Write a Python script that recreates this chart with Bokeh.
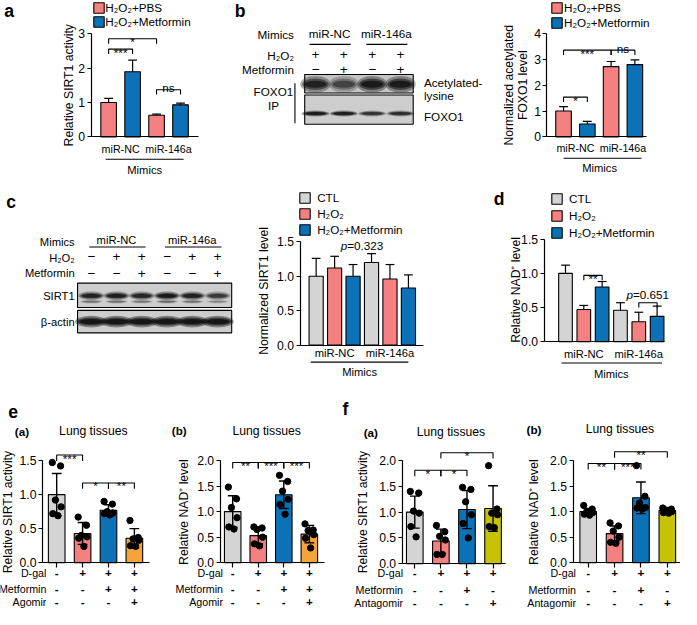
import math
from bokeh.plotting import figure
from bokeh.models import (Range1d, FixedTicker, Label, Legend, LegendItem, NumeralTickFormatter)
from bokeh.layouts import row, column
from bokeh.core.properties import value
from bokeh.embed import file_html
from bokeh.resources import INLINE

S = 0.975
FONT = "Liberation Sans"


def X(v):
    return int(round(v * S))


def fs(v):
    return f"{v * S:.1f}px"


GRAY, RED, BLUE, ORANGE, OLIVE = "#d4d4d4", "#f4807f", "#0b72b7", "#f5a43a", "#c8c300"
BLOT_BG = "#c4c4c4"

# ---------------------------------------------------------------- data
mimic_groups = ["miR-NC", "miR-146a"]
ab_series = ["H₂O₂+PBS", "H₂O₂+Metformin"]
ab_colors = [RED, BLUE]

a_yticks = [0, 1, 2, 3]
a_mean = [1.00, 1.89, 0.63, 0.93]
a_err = [0.12, 0.34, 0.03, 0.05]
a_sig = [(0, 1, 2.55, "***"), (0, 2, 2.85, "*"), (2, 3, 1.37, "ns")]

b_yticks = [0, 1, 2, 3, 4]
b_mean = [1.00, 0.50, 2.72, 2.80]
b_err = [0.17, 0.10, 0.20, 0.18]
b_sig = [(0, 1, 1.54, "*"), (0, 2, 3.36, "***"), (2, 3, 3.36, "ns")]
b_h2o2 = ["+", "+", "+", "+"]
b_met = ["−", "+", "−", "+"]
b_acetyl = [0.85, 0.55, 0.95, 0.95]
b_foxo1 = [0.95, 0.92, 0.70, 0.75]

cd_series = ["CTL", "H₂O₂", "H₂O₂+Metformin"]
cd_colors = [GRAY, RED, BLUE]
cd_yticks = [0, 0.5, 1.0, 1.5]
c_mean = [1.00, 1.12, 1.00, 1.20, 0.96, 0.83]
c_err = [0.26, 0.17, 0.17, 0.13, 0.21, 0.19]
c_p = (2.5, 1.44, "0.323")
c_h2o2 = ["−", "+", "+", "−", "+", "+"]
c_met = ["−", "−", "+", "−", "−", "+"]
c_sirt1 = [0.85, 0.88, 0.80, 0.95, 0.85, 0.62]
c_actin = [0.95, 0.95, 0.95, 0.95, 0.95, 0.95]

d_mean = [1.00, 0.47, 0.80, 0.46, 0.29, 0.37]
d_err = [0.12, 0.06, 0.08, 0.11, 0.14, 0.15]
d_sig = [(1, 2, 0.97, "**")]
d_p = (4, 5, 0.57, "0.651")

ef_yticks_a = [0, 0.5, 1.0, 1.5]
ef_yticks_b = [0, 0.5, 1.0, 1.5, 2.0]

e_rows = ["D-gal", "Metformin", "Agomir"]
e_signs = [["-", "+", "+", "+"], ["-", "-", "+", "+"], ["-", "-", "-", "+"]]
e_colors = [GRAY, RED, BLUE, ORANGE]
ea_mean = [1.00, 0.43, 0.77, 0.36]
ea_sd = [0.31, 0.16, 0.08, 0.14]
ea_pts = [[1.47, 1.42, 0.92, 0.82, 0.72, 0.69],
          [0.67, 0.55, 0.40, 0.38, 0.36, 0.24],
          [0.90, 0.86, 0.75, 0.73, 0.72, 0.70],
          [0.62, 0.37, 0.35, 0.33, 0.25, 0.24]]
ea_sig = [(0, 1, 1.58, "***"), (1, 2, 1.17, "*"), (2, 3, 1.17, "**")]

eb_mean = [1.00, 0.53, 1.33, 0.56]
eb_sd = [0.31, 0.16, 0.27, 0.17]
eb_pts = [[1.48, 1.25, 1.08, 0.88, 0.70, 0.66],
          [0.70, 0.68, 0.65, 0.50, 0.37, 0.33],
          [1.71, 1.59, 1.40, 1.24, 1.14, 0.95],
          [0.76, 0.64, 0.63, 0.55, 0.48, 0.29]]
eb_sig = [(0, 1, 1.96, "**"), (1, 2, 1.96, "***"), (2, 3, 1.96, "***")]

f_rows = ["D-gal", "Metformin", "Antagomir"]
f_signs = [["-", "+", "+", "+"], ["-", "-", "+", "-"], ["-", "-", "-", "+"]]
f_colors = [GRAY, RED, BLUE, OLIVE]
fa_mean = [1.00, 0.44, 1.05, 1.07]
fa_sd = [0.31, 0.23, 0.37, 0.44]
fa_pts = [[1.40, 1.37, 1.02, 0.98, 0.72, 0.52],
          [0.74, 0.62, 0.53, 0.46, 0.18, 0.18],
          [1.48, 1.44, 1.20, 0.95, 0.78, 0.50],
          [1.90, 1.06, 0.98, 0.95, 0.72, 0.70]]
fa_sig = [(0, 1, 1.81, "*"), (1, 2, 1.81, "*"), (1, 3, 2.15, "*")]

fb_mean = [1.00, 0.57, 1.27, 1.02]
fb_sd = [0.06, 0.15, 0.31, 0.04]
fb_pts = [[1.12, 1.05, 1.00, 0.98, 0.95, 0.93],
          [0.78, 0.72, 0.62, 0.50, 0.40, 0.38],
          [1.90, 1.30, 1.17, 1.08, 1.07, 1.05],
          [1.07, 1.05, 1.03, 1.00, 0.98, 0.97]]
fb_sig = [(0, 1, 1.94, "**"), (1, 2, 1.94, "***"), (1, 3, 2.17, "**")]

# dot spread inside a bar (style constant)
OFFS = [-0.17, 0.15, -0.05, 0.17, -0.15, 0.05]


# ---------------------------------------------------------------- helpers
class Geo:
    """maps reference-pixel positions of the layout into data units of one panel"""

    def __init__(self, slot, ax, ay, c0, pitch, ppu):
        self.slot, self.ax, self.ay, self.c0, self.pitch, self.ppu = slot, ax, ay, c0, pitch, ppu

    def x(self, rx):
        return (rx - self.c0) / self.pitch

    def y(self, ry):
        return (self.ay - ry) / self.ppu

    def dy(self, d):
        return d / self.ppu


def new_fig(slot, xr, yr, axes=True):
    L, T, R, B = slot
    kw = {} if axes else dict(x_axis_location=None, y_axis_location=None)
    p = figure(width=X(R) - X(L), height=X(B) - X(T), x_range=xr, y_range=yr,
               output_backend="svg", toolbar_location=None, title=None,
               min_border_left=0, min_border_right=0, min_border_top=0, min_border_bottom=0,
               **kw)
    p.outline_line_color = None
    p.grid.visible = False
    p.background_fill_color = "white"
    p.border_fill_color = "white"
    return p


def lab(p, x, y, text, size=12, align="center", baseline="middle", style="normal",
        angle=0.0, xo=0, yo=0):
    p.add_layout(Label(x=x, y=y, text=text, text_font=FONT, text_font_size=fs(size),
                       text_align=align, text_baseline=baseline, text_font_style=style,
                       text_color="black", angle=angle, x_offset=xo, y_offset=yo))


def txt(p, xs, ys, texts, size=12, align="center", style="normal"):
    p.text(x=xs, y=ys, text=texts, text_font=value(FONT), text_font_size=value(fs(size)),
           text_align=align, text_baseline="middle", text_font_style=style,
           text_color="black")


def bar_fig(slot, ax, ay, fr, c0, pitch, ppu, yticks, yfmt, xticks):
    L, T, R, B = slot
    g = Geo(slot, ax, ay, c0, pitch, ppu)
    p = new_fig(slot, Range1d(g.x(L), g.x(R)), Range1d(g.y(B), g.y(T)))
    yax = p.yaxis[0]
    yax.fixed_location = g.x(ax)
    yax.ticker = FixedTicker(ticks=yticks)
    yax.bounds = (0, yticks[-1])
    yax.formatter = NumeralTickFormatter(format=yfmt)
    yax.major_tick_in = 0
    yax.major_tick_out = 4
    yax.minor_tick_line_color = None
    yax.major_label_text_font = FONT
    yax.major_label_text_font_size = fs(12.5)
    yax.major_label_text_color = "black"
    yax.major_label_standoff = 2
    yax.axis_line_width = 1.2
    yax.major_tick_line_width = 1.2
    xax = p.xaxis[0]
    xax.fixed_location = 0
    xax.bounds = (g.x(ax), g.x(fr))
    xax.ticker = FixedTicker(ticks=xticks)
    xax.major_tick_in = 0
    xax.major_tick_out = 5 if xticks else 0
    xax.minor_tick_line_color = None
    xax.major_label_text_color = None
    xax.major_label_text_font_size = "1px"
    xax.axis_line_width = 1.2
    xax.major_tick_line_width = 1.2
    return p, g


def grouped_bars(p, g, means, errs, colors, bar_px, cap_px):
    ns = len(colors)
    rends = []
    for s in range(ns):
        idx = list(range(s, len(means), ns))
        r = p.vbar(x=idx, top=[means[i] for i in idx], width=bar_px / g.pitch,
                   fill_color=colors[s], line_color="black", line_width=1.1)
        rends.append(r)
    xs = list(range(len(means)))
    tops = [m + e for m, e in zip(means, errs)]
    p.segment(x0=xs, y0=means, x1=xs, y1=tops, line_color="black", line_width=1.2)
    p.scatter(x=xs, y=tops, marker="dash", size=cap_px * S, line_color="black", line_width=1.2)
    return rends


def add_legend(p, g, rends, labels, sq_left, first_top, pitch, text_x, sq=10.5):
    L, T, R, B = g.slot
    G = sq / 0.8
    inset = 0.1 * G
    n = len(labels)
    gh = int(round(G * S))
    item_h = max(gh, 13)
    spacing = max(0, int(round(pitch * S - item_h)))
    height = n * item_h + (n - 1) * spacing
    vx = (sq_left - inset - L) * S
    vy = (B - (first_top - inset)) * S - height
    standoff = int(round((text_x - (sq_left + sq + inset)) * S))
    items = [LegendItem(label=l, renderers=[r]) for l, r in zip(labels, rends)]
    lg = Legend(items=items, location=(vx, vy), glyph_width=gh, glyph_height=gh,
                label_height=gh, spacing=spacing, padding=0, margin=0,
                label_standoff=standoff, label_text_font=FONT,
                label_text_font_size=fs(12), label_text_color="black",
                border_line_color=None, background_fill_alpha=0)
    p.add_layout(lg)


def brackets(p, g, sig, tick=5):
    xs = [[i, i, j, j] for i, j, y, t in sig]
    ys = [[y - g.dy(tick), y, y, y - g.dy(tick)] for i, j, y, t in sig]
    p.multi_line(xs=xs, ys=ys, line_color="black", line_width=1.1)
    for i, j, y, t in sig:
        if t:
            lab(p, (i + j) / 2, y, t, size=12, baseline="alphabetic",
                yo=(2 if t == "ns" else -3))


def group_axis(p, g, groups, ns, y_lab, y_line, x_line, mim, size):
    for gi, name in enumerate(groups):
        lab(p, gi * ns + (ns - 1) / 2, g.y(y_lab), name, size=size)
    p.segment(x0=[g.x(x_line[0])], y0=[g.y(y_line)], x1=[g.x(x_line[1])], y1=[g.y(y_line)],
              line_color="black", line_width=1.1)
    lab(p, g.x(mim[0]), g.y(mim[1]), "Mimics", size=11.5)


def p_value(p, x, y, pv):
    lab(p, x, y, "p", size=12, align="right", style="italic", xo=-15)
    lab(p, x, y, "=" + pv, size=12, align="left", xo=-15)


def blot_fig(slot):
    L, T, R, B = slot
    return new_fig(slot, Range1d(L, R), Range1d(B, T), axes=False)


def bands(p, xs, yc, w, h, inten, spread=1.0, gain=1.0):
    for fw, fh, fa in [(1.15, 1.9 * spread, 0.30), (1.0, 1.3 * spread, 0.45), (0.85, 0.8, 0.65)]:
        p.ellipse(x=xs, y=[yc] * len(xs), width=w * fw, height=h * fh,
                  fill_color="#101010", fill_alpha=[min(1.0, fa * v * gain) for v in inten],
                  line_color=None)


# ---------------------------------------------------------------- panel a
pa, ga = bar_fig((0, 0, 232, 192), ax=93, ay=140, fr=203, c0=111, pitch=24.6, ppu=35.33,
                 yticks=a_yticks, yfmt="0", xticks=[])
ra = grouped_bars(pa, ga, a_mean, a_err, ab_colors, 16, 9)
add_legend(pa, ga, ra, ab_series, sq_left=96, first_top=3, pitch=14, text_x=108)
brackets(pa, ga, a_sig)
group_axis(pa, ga, mimic_groups, 2, 152, 163, (108, 188), (148, 174), 11)
lab(pa, ga.x(70), ga.y(87), "Relative SIRT1 activity", size=12.5, angle=math.pi / 2)
lab(pa, ga.x(9), ga.y(11), "a", size=18, style="bold")

# ---------------------------------------------------------------- panel b blot
pbb = blot_fig((232, 0, 500, 192))
b_lanes = [323 + 29 * i for i in range(len(b_h2o2))]
txt(pbb, [246], [11], ["b"], size=18, style="bold")
txt(pbb, [301], [35], ["Mimics"], size=12, align="right")
for gi, name in enumerate(mimic_groups):
    l0, l1 = b_lanes[2 * gi], b_lanes[2 * gi + 1]
    txt(pbb, [(l0 + l1) / 2], [34], [name], size=12)
    pbb.segment(x0=[l0 - 6], y0=[45], x1=[l1 + 7], y1=[45], line_color="black", line_width=1.1)
txt(pbb, [301], [56], ["H₂O₂"], size=12, align="right")
txt(pbb, [301], [71], ["Metformin"], size=12, align="right")
txt(pbb, b_lanes, [55] * 4, b_h2o2, size=14)
txt(pbb, b_lanes, [71] * 4, b_met, size=14)
pbb.quad(left=[312], right=[423], top=[76], bottom=[95], fill_color=BLOT_BG, line_color="black",
         line_width=1.1)
pbb.quad(left=[312], right=[423], top=[97], bottom=[127], fill_color="#cdcdcd",
         line_color="black", line_width=1.1)
bands(pbb, b_lanes, 86, 27, 9, b_acetyl, spread=1.0, gain=1.3)
bands(pbb, b_lanes, 116, 25, 4, b_foxo1, spread=0.8, gain=1.3)
txt(pbb, [280], [93], ["FOXO1"], size=12)
txt(pbb, [280], [108], ["IP"], size=12)
pbb.segment(x0=[302], y0=[85], x1=[302], y1=[126], line_color="black", line_width=1.1)
txt(pbb, [434, 434, 434], [84, 98, 119], ["Acetylated-", "lysine", "FOXO1"], size=12,
    align="left")

# ---------------------------------------------------------------- panel b bars
pb, gb = bar_fig((500, 0, 697, 192), ax=560, ay=140, fr=662, c0=577, pitch=24.4, ppu=26.5,
                 yticks=b_yticks, yfmt="0", xticks=[])
rb = grouped_bars(pb, gb, b_mean, b_err, ab_colors, 16, 9)
add_legend(pb, gb, rb, ab_series, sq_left=565, first_top=3, pitch=15, text_x=578)
brackets(pb, gb, b_sig)
group_axis(pb, gb, mimic_groups, 2, 151, 162, (577, 657), (614, 172), 11)
lab(pb, gb.x(521), gb.y(87), "Normalized acetylated", size=12.5, angle=math.pi / 2)
lab(pb, gb.x(535), gb.y(87), "FOXO1 level", size=12.5, angle=math.pi / 2)

# ---------------------------------------------------------------- panel c blot
pcb = blot_fig((0, 192, 245, 395))
c_lanes = [93 + 25.9 * i for i in range(len(c_h2o2))]
txt(pcb, [11], [207], ["c"], size=18, style="bold")
txt(pcb, [76], [248], ["Mimics"], size=11.5, align="right")
for gi, name in enumerate(mimic_groups):
    l0, l1 = c_lanes[3 * gi], c_lanes[3 * gi + 2]
    txt(pcb, [(l0 + l1) / 2], [246], [name], size=11.5)
    pcb.segment(x0=[l0 - 2], y0=[253], x1=[l1 + 4], y1=[253], line_color="black", line_width=1.1)
txt(pcb, [76], [264], ["H₂O₂"], size=11.5, align="right")
txt(pcb, [76], [280], ["Metformin"], size=11.5, align="right")
txt(pcb, c_lanes, [263] * 6, c_h2o2, size=14)
txt(pcb, c_lanes, [280] * 6, c_met, size=14)
pcb.quad(left=[79], right=[237], top=[290], bottom=[315], fill_color="#cdcdcd",
         line_color="black", line_width=1.1)
pcb.quad(left=[79], right=[237], top=[318], bottom=[341], fill_color="#cdcdcd",
         line_color="black", line_width=1.1)
bands(pcb, c_lanes, 303, 23, 5, c_sirt1, spread=0.9, gain=1.3)
bands(pcb, c_lanes, 309, 20, 2.5, [v * 0.5 for v in c_sirt1], spread=0.8)
bands(pcb, c_lanes, 329.5, 29, 7, c_actin, spread=0.9, gain=1.4)
txt(pcb, [76], [303], ["SIRT1"], size=11.5, align="right")
txt(pcb, [76], [330], ["β-actin"], size=11.5, align="right")

# ---------------------------------------------------------------- panel c bars
pc, gc = bar_fig((245, 192, 500, 395), ax=307, ay=353.6, fr=433, c0=323.5, pitch=18.9,
                 ppu=70.6, yticks=cd_yticks, yfmt="0.0", xticks=[])
rc = grouped_bars(pc, gc, c_mean, c_err, cd_colors, 14.5, 9)
add_legend(pc, gc, rc, cd_series, sq_left=307, first_top=197, pitch=16, text_x=325)
p_value(pc, c_p[0], c_p[1], c_p[2])
group_axis(pc, gc, mimic_groups, 3, 362, 371, (318, 418), (368, 381), 11.5)
lab(pc, gc.x(270), gc.y(298), "Normalized SIRT1 level", size=12.5, angle=math.pi / 2)

# ---------------------------------------------------------------- panel d
pd, gd = bar_fig((500, 192, 697, 395), ax=557, ay=350, fr=681, c0=579, pitch=18.8, ppu=70,
                 yticks=cd_yticks, yfmt="0.0", xticks=[])
rd = grouped_bars(pd, gd, d_mean, d_err, cd_colors, 14, 9)
add_legend(pd, gd, rd, cd_series, sq_left=565, first_top=198, pitch=17.5, text_x=583)
brackets(pd, gd, d_sig)
brackets(pd, gd, [(d_p[0], d_p[1], d_p[2], "")])
p_value(pd, (d_p[0] + d_p[1]) / 2, d_p[2] + gd.dy(8), d_p[3])
group_axis(pd, gd, mimic_groups, 3, 363, 372, (575, 678), (626, 383), 11.5)
lab(pd, gd.x(528), gd.y(297), "Relative NAD⁺ level", size=12.5, angle=math.pi / 2)
lab(pd, gd.x(511), gd.y(204), "d", size=18, style="bold")


# ---------------------------------------------------------------- panels e / f
def ef_panel(slot, ax, ay, fr, c0, pitch, ppu, yticks, colors, means, sds, pts, sig,
             rows, signs, rl_x, rows_y, ylabel, ylab_pos, sub, sub_pos, title_pos, letter=None):
    n = len(means)
    p, g = bar_fig(slot, ax, ay, fr, c0, pitch, ppu, yticks, "0.0", list(range(n)))
    xs = list(range(n))
    p.vbar(x=xs, top=means, width=17 / pitch, fill_color=colors, line_color="black",
           line_width=1.1)
    lo = [m - s for m, s in zip(means, sds)]
    hi = [m + s for m, s in zip(means, sds)]
    p.segment(x0=xs, y0=lo, x1=xs, y1=hi, line_color="black", line_width=1.4)
    p.scatter(x=xs + xs, y=lo + hi, marker="dash", size=10 * S, line_color="black",
              line_width=1.4)
    dx, dy = [], []
    for i, vals in enumerate(pts):
        for k, v in enumerate(vals):
            dx.append(i + OFFS[k])
            dy.append(v)
    p.scatter(x=dx, y=dy, size=6.5 * S, fill_color="black", line_color="black")
    brackets(p, g, sig, tick=6)
    for r, (name, sg) in enumerate(zip(rows, signs)):
        lab(p, g.x(rl_x), g.y(rows_y[r]), name, size=11, align="right")
        for i, s in enumerate(sg):
            lab(p, i, g.y(rows_y[r]), s, size=12, style="bold")
    lab(p, g.x(ylab_pos[0]), g.y(ylab_pos[1]), ylabel, size=12.5, angle=math.pi / 2)
    lab(p, g.x(sub_pos[0]), g.y(sub_pos[1]), sub, size=12, style="bold")
    lab(p, g.x(title_pos[0]), g.y(title_pos[1]), "Lung tissues", size=12.5)
    if letter:
        lab(p, g.x(letter[0]), g.y(letter[1]), letter[2], size=18, style="bold")
    return p


pea = ef_panel((0, 395, 175, 625), 43, 577, 152, 57.5, 26.5, 70, ef_yticks_a, e_colors,
               ea_mean, ea_sd, ea_pts, ea_sig, e_rows, e_signs, 47, [588, 604, 617],
               "Relative SIRT1 activity", (8, 525), "(a)", (22, 442), (95, 442),
               letter=(13, 422, "e"))
peb = ef_panel((175, 395, 350, 625), 225, 577, 332, 238, 26.3, 52.5, ef_yticks_b, e_colors,
               eb_mean, eb_sd, eb_pts, eb_sig, e_rows, e_signs, 228, [588, 604, 617],
               "Relative NAD⁺ level", (188, 525), "(b)", (183, 441), (273, 442))
pfa = ef_panel((350, 395, 525, 625), 412, 578, 518, 425, 26.7, 53, ef_yticks_b, f_colors,
               fa_mean, fa_sd, fa_pts, fa_sig, f_rows, f_signs, 413, [588, 605, 618],
               "Relative SIRT1 activity", (372, 525), "(a)", (380, 443), (462, 443),
               letter=(354, 419, "f"))
pfb = ef_panel((525, 395, 697, 625), 587, 577, 697, 602.5, 27, 52.5, ef_yticks_b, f_colors,
               fb_mean, fb_sd, fb_pts, fb_sig, f_rows, f_signs, 590, [588, 605, 618],
               "Relative NAD⁺ level", (547, 525), "(b)", (547, 440), (635, 440))

layout = column(row(pa, pbb, pb, spacing=0),
                row(pcb, pc, pd, spacing=0),
                row(pea, peb, pfa, pfb, spacing=0), spacing=0)

open("out.html", "w").write(file_html(layout, INLINE))
